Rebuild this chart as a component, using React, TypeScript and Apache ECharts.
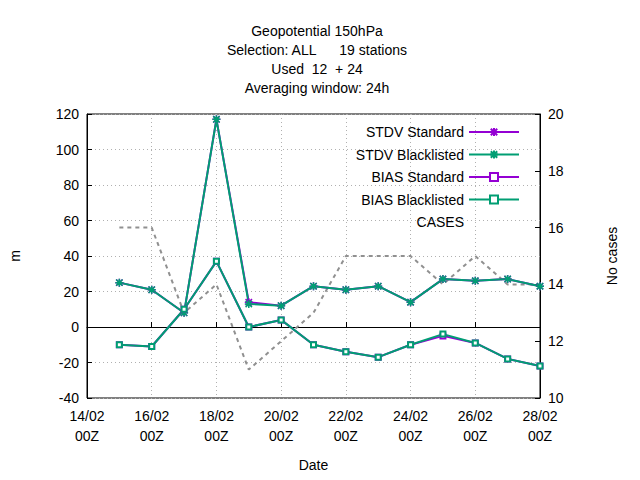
import { useEffect, useRef } from 'react';
import * as echarts from 'echarts';

const days = [15, 16, 17, 18, 19, 20, 21, 22, 23, 24, 25, 26, 27, 28];
const stdvStandard = [25, 21, 8, 117, 14, 12, 23, 21, 23, 14, 27, 26, 27, 23];
const stdvBlack = [25, 21, 8, 117, 13, 12, 23, 21, 23, 14, 27, 26, 27, 23];
const biasStandard = [-10, -11, 10, 37, 0, 4, -10, -14, -17, -10, -5, -9, -18, -22];
const biasBlack = [-10, -11, 10, 37, 0, 4, -10, -14, -17, -10, -4, -9, -18, -22];
const cases = [16, 16, 13, 14, 11, 12, 13, 15, 15, 15, 14, 15, 14, 14];
const titleLines = ['Geopotential 150hPa', 'Selection: ALL      19 stations', 'Used  12  + 24', 'Averaging window: 24h'];

const PURPLE = '#9400d3';
const GREEN = '#009e73';
const STAR = 'path://M0,-5L0,5M-5,0L5,0M-4,-4L4,4M-4,4L4,-4';

const pair = (v: number[]) => v.map((y, i) => [days[i], y]);
const lab = (d: number) => `${String(d).padStart(2, '0')}/02\n00Z`;

export default function App() {
  const ref = useRef<HTMLDivElement | null>(null);
  useEffect(() => {
    if (!ref.current) return;
    document.body.style.margin = '0';
    const chart = echarts.init(ref.current, undefined, { renderer: 'svg' });
    const gridLine = { show: true, lineStyle: { color: '#b0b0b0', type: [1, 3] } };
    const axisCommon = {
      axisLine: { show: true, lineStyle: { color: '#000' } },
      axisTick: { inside: true, lineStyle: { color: '#000' } },
      axisLabel: { color: '#000', fontSize: 14 },
      splitLine: gridLine,
    };
    const line = (name: string, data: number[], color: string, sym: string, yIdx = 0) => ({
      name,
      type: 'line',
      yAxisIndex: yIdx,
      data: pair(data),
      symbol: sym,
      symbolSize: sym === 'emptyRect' ? 5 : 8,
      itemStyle: { color, borderColor: color, borderWidth: 1.5 },
      lineStyle: { color, width: 2 },
    });
    chart.setOption({
      animation: false,
      textStyle: { fontFamily: 'Liberation Sans, Arial, sans-serif' },
      title: {
        text: titleLines.join('\n'),
        left: 312,
        textAlign: 'center',
        top: 16,
        textStyle: { fontSize: 14, fontWeight: 'normal', color: '#000', lineHeight: 19 },
      },
      legend: {
        right: 115,
        top: 120,
        orient: 'vertical',
        align: 'right',
        itemWidth: 50,
        itemHeight: 10,
        itemGap: 8.5,
        textStyle: { fontSize: 14, color: '#000' },
        data: [
          'STDV Standard',
          'STDV Blacklisted',
          'BIAS Standard',
          'BIAS Blacklisted',
          { name: 'CASES', icon: 'none' },
        ],
      },
      grid: { left: 85, right: 100, top: 114, bottom: 82, show: true, borderColor: '#000', borderWidth: 1 },
      xAxis: {
        type: 'value',
        min: 14,
        max: 28,
        interval: 2,
        name: 'Date',
        nameLocation: 'middle',
        nameGap: 60,
        nameTextStyle: { fontSize: 14, color: '#000' },
        ...axisCommon,
        axisLabel: { color: '#000', fontSize: 14, formatter: lab, lineHeight: 20 },
      },
      yAxis: [
        {
          type: 'value',
          min: -40,
          max: 120,
          interval: 20,
          name: 'm',
          nameLocation: 'middle',
          nameGap: 65,
          nameTextStyle: { fontSize: 14, color: '#000' },
          ...axisCommon,
        },
        {
          type: 'value',
          min: 10,
          max: 20,
          interval: 2,
          name: 'No cases',
          nameLocation: 'middle',
          nameGap: 65,
          nameRotate: 90,
          nameTextStyle: { fontSize: 14, color: '#000' },
          ...axisCommon,
          splitLine: { show: false },
        },
      ],
      series: [
        line('STDV Standard', stdvStandard, PURPLE, STAR),
        line('STDV Blacklisted', stdvBlack, GREEN, STAR),
        line('BIAS Standard', biasStandard, PURPLE, 'emptyRect'),
        line('BIAS Blacklisted', biasBlack, GREEN, 'emptyRect'),
        {
          name: 'CASES',
          type: 'line',
          yAxisIndex: 1,
          data: pair(cases),
          symbol: 'none',
          itemStyle: { color: '#909090' },
          lineStyle: { color: '#909090', width: 2, type: [4, 4] },
          z: 1,
        },
      ],
    });
    return () => chart.dispose();
  }, []);
  return <div ref={ref} style={{ width: 640, height: 480 }} />;
}
